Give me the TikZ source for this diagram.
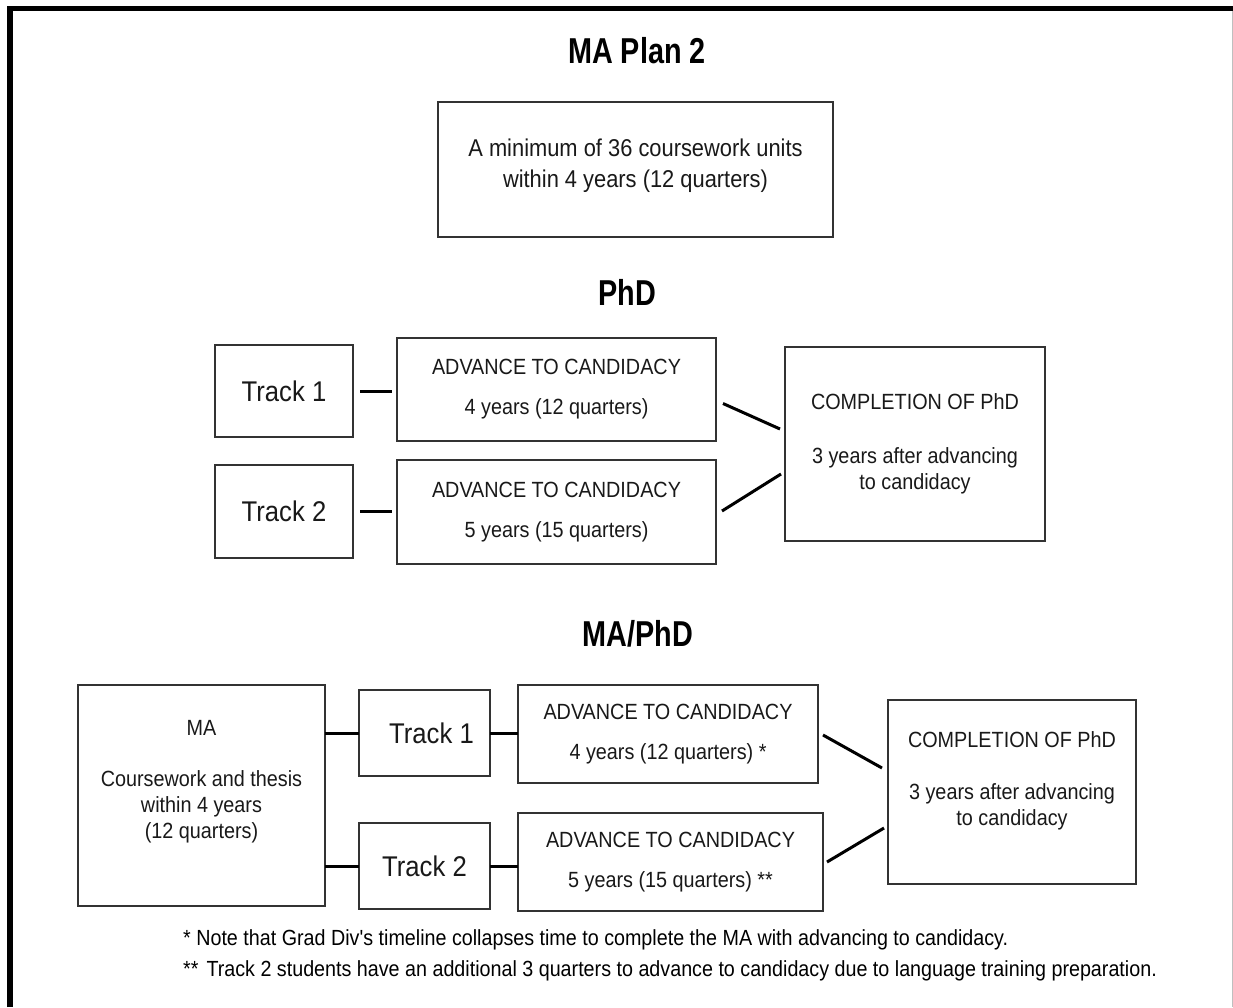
\documentclass[tikz,border=0pt]{standalone}
\usepackage{fontspec}
\usetikzlibrary{calc}
\newfontfamily\bodyfont[FakeStretch=0.9]{Liberation Sans}
\newfontfamily\headfont[FakeStretch=0.8]{Liberation Sans}
\newfontfamily\notefont[FakeStretch=0.9]{Liberation Sans}
\tikzset{
  box/.style={draw=black!80, line width=2.5pt, inner sep=0pt, outer sep=0pt, align=center, text=black!90,
              font=\bodyfont\fontsize{22}{26}\selectfont},
  trackbox/.style={box, font=\bodyfont\fontsize{28.5}{32}\selectfont},
  conn/.style={draw=black, line width=3pt},
  heading/.style={font=\headfont\bfseries\fontsize{36}{40}\selectfont, anchor=base, inner sep=0pt},
  note/.style={font=\notefont\fontsize{21.9}{24}\selectfont, anchor=base west, inner sep=0pt}
}
\begin{document}
\begin{tikzpicture}[x=1pt,y=-1pt]
\path[fill=white,use as bounding box] (0,0) rectangle (1233,1007);
% frame
\draw[line width=5.5pt] (10,1007) -- (10,8.5) -- (1233,8.5);
\draw[black!25, line width=1pt] (1232.5,11) -- (1232.5,1007);

% headings
\node[heading] (h1) at (637,63) {MA Plan 2};
\node[heading] (h2) at (627,305) {PhD};
\node[heading] (h3) at (638,646) {MA/PhD};

% MA Plan 2
\node[box, font=\bodyfont\fontsize{24.3}{31}\selectfont, minimum width=395pt, minimum height=135pt] (top) at (635.5,169.5)
  {A minimum of 36 coursework units\\within 4 years (12 quarters)\rule[-12pt]{0pt}{0pt}};

% PhD
\node[trackbox, minimum width=138pt, minimum height=92pt] (pt1) at (284,391) {Track 1};
\node[trackbox, minimum width=138pt, minimum height=93pt] (pt2) at (284,511.5) {Track 2};
\node[box, minimum width=319pt, minimum height=103pt] (pa1) at (556.5,389.5)
  {ADVANCE TO CANDIDACY\\[14pt]4 years (12 quarters)};
\node[box, minimum width=319pt, minimum height=104pt] (pa2) at (556.5,512)
  {ADVANCE TO CANDIDACY\\[14pt]5 years (15 quarters)};
\node[box, minimum width=260pt, minimum height=194pt] (pc) at (915,444)
  {COMPLETION OF PhD\\[28pt]3 years after advancing\\to candidacy};

\draw[conn, shorten <=7pt, shorten >=5pt] (pt1.east) -- (pt1.east -| pa1.west);
\draw[conn, shorten <=7pt, shorten >=5pt] (pt2.east) -- (pt2.east -| pa2.west);
\draw[conn] ($(pa1.east)+(7,14)$) -- ($(pc.west)+(-5,-15)$);
\draw[conn] ($(pa2.east)+(6,-1)$) -- ($(pc.west)+(-4,30)$);

% MA/PhD
\node[box, minimum width=247pt, minimum height=221pt] (mab) at (201.5,795.5)
  {MA\\[25pt]Coursework and thesis\\within 4 years\\(12 quarters)\rule[-33pt]{0pt}{0pt}};
\node[trackbox, minimum width=131pt, minimum height=86pt] (mt1) at (424.5,733) {\hspace*{14pt}Track 1};
\node[trackbox, minimum width=131pt, minimum height=86pt] (mt2) at (424.5,866) {Track 2};
\node[box, minimum width=300pt, minimum height=98pt] (ma1) at (668,734)
  {ADVANCE TO CANDIDACY\\[14pt]4 years (12 quarters) *};
\node[box, minimum width=305pt, minimum height=98pt] (ma2) at (670.5,862)
  {ADVANCE TO CANDIDACY\\[14pt]5 years (15 quarters) **};
\node[box, minimum width=248pt, minimum height=184pt] (mc) at (1012,792)
  {COMPLETION OF PhD\\[26pt]3 years after advancing\\to candidacy\rule[-26pt]{0pt}{0pt}};

\draw[conn] (mt1.west -| mab.east) -- (mt1.west);
\draw[conn] (mt2.west -| mab.east) -- (mt2.west);
\draw[conn] (mt1.east) -- (mt1.east -| ma1.west);
\draw[conn] (mt2.east) -- (mt2.east -| ma2.west);
\draw[conn] ($(ma1.east)+(5,1)$) -- ($(mc.west)+(-6,-24)$);
\draw[conn] ($(ma2.east)+(4,0)$) -- ($(mc.west)+(-4,36)$);

% notes
\node[note] (n1) at (183,945) {* Note that Grad Div's timeline collapses time to complete the MA with advancing to candidacy.};
\node[note] (n2) at (183,976) {**\hspace{8pt}Track 2 students have an additional 3 quarters to advance to candidacy due to language training preparation.};
\end{tikzpicture}
\end{document}
